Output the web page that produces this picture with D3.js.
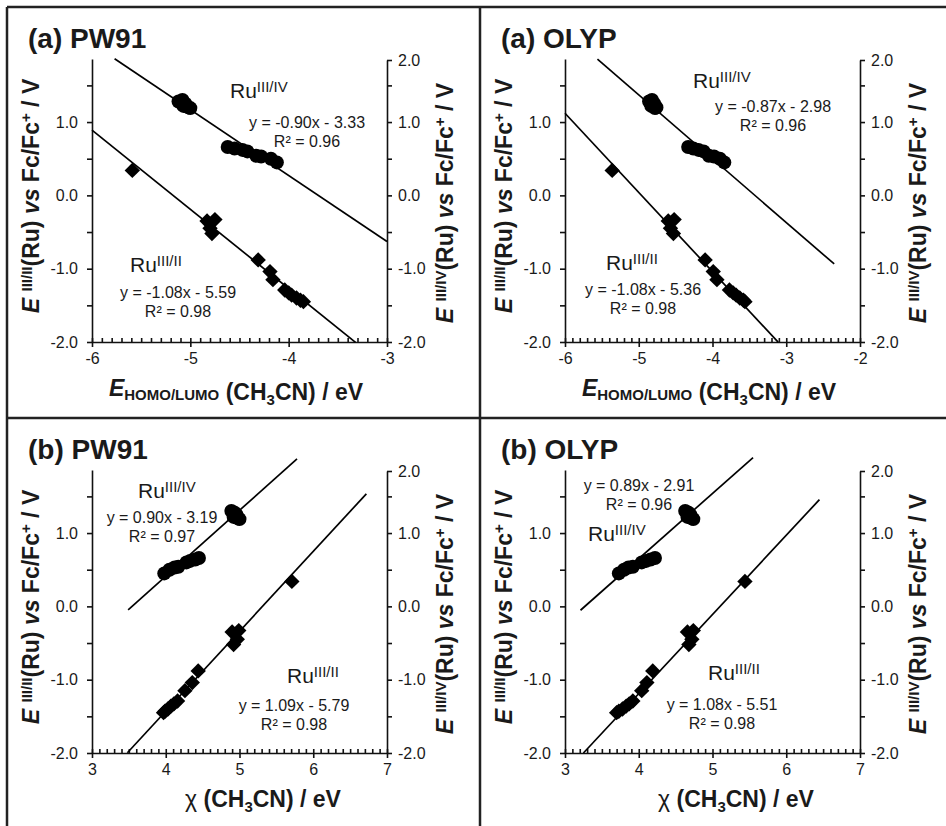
<!DOCTYPE html>
<html>
<head>
<meta charset="utf-8">
<script src="https://cdn.jsdelivr.net/npm/d3@7"></script>
<style>
  body { margin: 0; background: #fff; }
  text { font-family: Arial, 'Liberation Sans', sans-serif; fill: #1a1a1a; white-space: pre; }
</style>
</head>
<body>
<div id="chart"></div>
<script>
const w = 946;
const h = 826;

// measured potentials (V vs Fc/Fc+), same 14 compounds in every panel
const oxE = [1.30, 1.28, 1.25, 1.22, 1.20, 1.19, 0.66, 0.64, 0.62, 0.60, 0.54, 0.53, 0.50, 0.45];
const redE = [0.34, -0.33, -0.35, -0.45, -0.52, -0.88, -1.04, -1.15, -1.29, -1.33, -1.36, -1.40, -1.43, -1.45];

// x values
const pw91Homo = [-5.08, -5.12, -5.05, -5.07, -5.02, -5.00, -4.62, -4.55, -4.47, -4.42, -4.33, -4.28, -4.18, -4.12];
const pw91Lumo = [-5.59, -4.75, -4.83, -4.80, -4.78, -4.31, -4.19, -4.16, -4.04, -4.00, -3.97, -3.92, -3.88, -3.85];
const olypHomo = [-4.82, -4.86, -4.79, -4.83, -4.76, -4.78, -4.33, -4.26, -4.19, -4.12, -4.05, -3.98, -3.90, -3.84];
const olypLumo = [-5.36, -4.52, -4.60, -4.57, -4.53, -4.10, -3.99, -3.94, -3.77, -3.72, -3.68, -3.63, -3.58, -3.56];
const pw91ChiOx = [4.89, 4.93, 4.96, 4.92, 4.98, 5.00, 4.45, 4.40, 4.33, 4.28, 4.17, 4.12, 4.05, 3.98];
const pw91ChiRed = [5.71, 4.99, 4.90, 4.97, 4.92, 4.44, 4.36, 4.26, 4.16, 4.11, 4.07, 4.03, 3.99, 3.97];
const olypChiOx = [4.63, 4.67, 4.70, 4.66, 4.72, 4.74, 4.22, 4.16, 4.10, 4.04, 3.92, 3.86, 3.80, 3.73];
const olypChiRed = [5.44, 4.74, 4.66, 4.72, 4.68, 4.19, 4.11, 4.04, 3.92, 3.87, 3.83, 3.78, 3.73, 3.70];

// trend lines (order: aPW91 ox, aPW91 red, aOLYP ox, aOLYP red, bPW91 ox, bPW91 red, bOLYP ox, bOLYP red)
const fitSlopes = [-0.90, -1.08, -0.87, -1.08, 0.90, 1.09, 0.89, 1.08];
const fitIntercepts = [-3.33, -5.59, -2.98, -5.36, -3.19, -5.79, -2.91, -5.51];
const fitR2 = [0.96, 0.98, 0.96, 0.98, 0.97, 0.98, 0.96, 0.98];
const fitStart = [-5.77, -6.00, -5.56, -6.00, 3.49, 3.48, 3.21, 3.25];
const fitEnd = [-3.00, -3.32, -2.35, -3.11, 5.78, 6.72, 5.55, 6.45];

// tick labels
const yTicks = [-2, -1, 0, 1];
const yTicksRight = [-2, -1, 0, 1, 2];
const yMinor = [-1.5, -0.5, 0.5, 1.5];
const xTicksPw91 = [-6, -5, -4, -3];
const xTicksOlyp = [-6, -5, -4, -3, -2];
const xTicksChi = [3, 4, 5, 6, 7];

const panels = [
  { ox: 0, oy: 0, title: '(a) PW91', xTicks: xTicksPw91, xOx: pw91Homo, xRed: pw91Lumo, fOx: 0, fRed: 1, chi: false,
    oxLab: [230, 98], oxEq: [307, 128], redLab: [130, 272], redEq: [178, 298], xLabX: 236 },
  { ox: 473, oy: 0, title: '(a) OLYP', xTicks: xTicksOlyp, xOx: olypHomo, xRed: olypLumo, fOx: 2, fRed: 3, chi: false,
    oxLab: [220, 88], oxEq: [300, 112], redLab: [133, 270], redEq: [170, 295], xLabX: 236 },
  { ox: 0, oy: 411, title: '(b) PW91', xTicks: xTicksChi, xOx: pw91ChiOx, xRed: pw91ChiRed, fOx: 4, fRed: 5, chi: true,
    oxLab: [138, 87], oxEq: [162, 112], redLab: [287, 272], redEq: [294, 300], xLabX: 263 },
  { ox: 473, oy: 411, title: '(b) OLYP', xTicks: xTicksChi, xOx: olypChiOx, xRed: olypChiRed, fOx: 6, fRed: 7, chi: true,
    oxLab: [115, 130], oxEq: [166, 80], redLab: [235, 269], redEq: [249, 299], xLabX: 263 }
];

const plotLeft = 92, plotRight = 387, plotTop = 59, plotBottom = 342;

const svg = d3.select('#chart')
  .append('svg')
  .attr('width', w)
  .attr('height', h);

svg.append('rect').attr('width', w).attr('height', h).attr('fill', '#fff');

// frame lines between panels
const frame = [[7, 7, w, 7], [7, 7, 7, h], [480, 7, 480, h], [7, 418, w, 418]];
svg.selectAll('line.frame')
  .data(frame)
  .join('line')
  .attr('x1', d => d[0]).attr('y1', d => d[1])
  .attr('x2', d => d[2]).attr('y2', d => d[3])
  .attr('stroke', '#222')
  .attr('stroke-width', 2.5);

function styleAxis(sel) {
  sel.attr('font-size', 16)
    .attr('font-family', "Arial, 'Liberation Sans', sans-serif")
    .attr('color', '#111');
  sel.selectAll('path, line').attr('stroke-width', 1.6);
  sel.selectAll('text').attr('fill', '#222');
}

function supText(sel, base, sup, size, sz) {
  sel.append('tspan').text(base);
  sel.append('tspan').attr('font-size', sz).attr('dy', -size).text(sup);
}

function yTitle(sel, sup) {
  sel.append('tspan').attr('font-style', 'italic').text('E ');
  sel.append('tspan').attr('font-size', 15).attr('dy', -7).text(sup);
  sel.append('tspan').attr('dy', 7).text('(Ru) ');
  sel.append('tspan').attr('font-style', 'italic').text('vs');
  sel.append('tspan').text(' Fc/Fc');
  sel.append('tspan').attr('font-size', 15).attr('dy', -8).text('+');
  sel.append('tspan').attr('dy', 8).text(' / V');
}

panels.forEach(p => {
  const g = svg.append('g').attr('transform', `translate(${p.ox},${p.oy})`);

  const xDomain = [p.xTicks[0], p.xTicks[p.xTicks.length - 1]];
  const x = d3.scaleLinear().domain(xDomain).range([plotLeft, plotRight]);
  const y = d3.scaleLinear().domain([-2, 1.86]).range([plotBottom, plotTop]);
  const yRight = d3.scaleLinear().domain([-2, 1.5, 2]).range([plotBottom, y(1.5), 60]);

  const xMinor = d3.range(0, Math.round((xDomain[1] - xDomain[0]) * 10) + 1).map(i => xDomain[0] + i * 0.1);

  // x axis
  g.append('g')
    .attr('transform', `translate(0,${plotBottom})`)
    .call(d3.axisBottom(x).tickValues(p.xTicks).tickFormat(d => d).tickSize(5).tickPadding(6).tickSizeOuter(0))
    .call(styleAxis);
  g.append('g')
    .attr('transform', `translate(0,${plotBottom})`)
    .call(d3.axisBottom(x).tickValues(xMinor).tickFormat('').tickSize(-4).tickSizeOuter(0))
    .call(styleAxis)
    .call(a => a.select('.domain').remove());

  // left axis
  g.append('g')
    .attr('transform', `translate(${plotLeft},0)`)
    .call(d3.axisLeft(y).tickValues(yTicks).tickFormat(d => d.toFixed(1)).tickSize(5).tickPadding(9).tickSizeOuter(0))
    .call(styleAxis);
  g.append('g')
    .attr('transform', `translate(${plotLeft},0)`)
    .call(d3.axisLeft(y).tickValues(yMinor).tickFormat('').tickSize(5).tickSizeOuter(0))
    .call(styleAxis)
    .call(a => a.select('.domain').remove());

  // right axis
  g.append('g')
    .attr('transform', `translate(${plotRight},0)`)
    .call(d3.axisRight(yRight).tickValues(yTicksRight).tickFormat(d => d.toFixed(1)).tickSize(5).tickPadding(6).tickSizeOuter(0))
    .call(styleAxis);
  g.append('g')
    .attr('transform', `translate(${plotRight},0)`)
    .call(d3.axisRight(yRight).tickValues(yMinor).tickFormat('').tickSize(5).tickSizeOuter(0))
    .call(styleAxis)
    .call(a => a.select('.domain').remove());

  // trend lines
  const line = d3.line().x(d => x(d[0])).y(d => y(d[1]));
  [p.fOx, p.fRed].forEach(k => {
    const pts = [fitStart[k], fitEnd[k]].map(v => [v, fitSlopes[k] * v + fitIntercepts[k]]);
    g.append('path')
      .datum(pts)
      .attr('d', line)
      .attr('stroke', '#000')
      .attr('stroke-width', 1.7)
      .attr('fill', 'none');
  });

  // Ru III/IV circles
  g.selectAll('circle.ox')
    .data(oxE.map((v, i) => [p.xOx[i], v]))
    .join('circle')
    .attr('cx', d => x(d[0]))
    .attr('cy', d => y(d[1]))
    .attr('r', 7)
    .attr('fill', '#000');

  // Ru III/II diamonds
  g.selectAll('path.red')
    .data(redE.map((v, i) => [p.xRed[i], v]))
    .join('path')
    .attr('d', d3.symbol(d3.symbolSquare, 118))
    .attr('transform', d => `translate(${x(d[0])},${y(d[1])}) rotate(45)`)
    .attr('fill', '#000');

  // panel title
  g.append('text')
    .attr('x', 28)
    .attr('y', 48)
    .attr('font-size', 28)
    .attr('font-weight', 'bold')
    .text(p.title);

  // series labels
  const oxT = g.append('text').attr('x', p.oxLab[0]).attr('y', p.oxLab[1]).attr('font-size', 21);
  supText(oxT, 'Ru', 'III/IV', 6, 15);
  const redT = g.append('text').attr('x', p.redLab[0]).attr('y', p.redLab[1]).attr('font-size', 21);
  supText(redT, 'Ru', 'III/II', 6, 15);

  // equations
  const eq = k => 'y = ' + fitSlopes[k].toFixed(2) + 'x - ' + Math.abs(fitIntercepts[k]).toFixed(2);
  [[p.fOx, p.oxEq], [p.fRed, p.redEq]].forEach(([k, pos]) => {
    g.append('text').attr('x', pos[0]).attr('y', pos[1])
      .attr('text-anchor', 'middle').attr('font-size', 16).text(eq(k));
    g.append('text').attr('x', pos[0]).attr('y', pos[1] + 19)
      .attr('text-anchor', 'middle').attr('font-size', 16).text('R² = ' + fitR2[k].toFixed(2));
  });

  // x axis title
  const xt = g.append('text')
    .attr('x', p.xLabX)
    .attr('y', 396)
    .attr('text-anchor', 'middle')
    .attr('font-size', 23)
    .attr('font-weight', 'bold');
  if (p.chi) {
    xt.append('tspan').attr('font-weight', 'normal').text('χ');
  } else {
    xt.append('tspan').attr('font-style', 'italic').text('E');
    xt.append('tspan').attr('font-size', 15).attr('dy', 4).text('HOMO/LUMO');
    xt.append('tspan').attr('dy', -4).text('');
  }
  xt.append('tspan').text(' (CH');
  xt.append('tspan').attr('font-size', 15).attr('dy', 5).text('3');
  xt.append('tspan').attr('dy', -5).text('CN) / eV');

  // y axis titles
  const ytl = g.append('text')
    .attr('transform', 'translate(39,196) rotate(-90)')
    .attr('text-anchor', 'middle')
    .attr('font-size', 23)
    .attr('font-weight', 'bold');
  yTitle(ytl, 'III/II');
  const ytr = g.append('text')
    .attr('transform', 'translate(453,203) rotate(-90)')
    .attr('text-anchor', 'middle')
    .attr('font-size', 23)
    .attr('font-weight', 'bold');
  yTitle(ytr, 'III/IV');
});
</script>
</body>
</html>
